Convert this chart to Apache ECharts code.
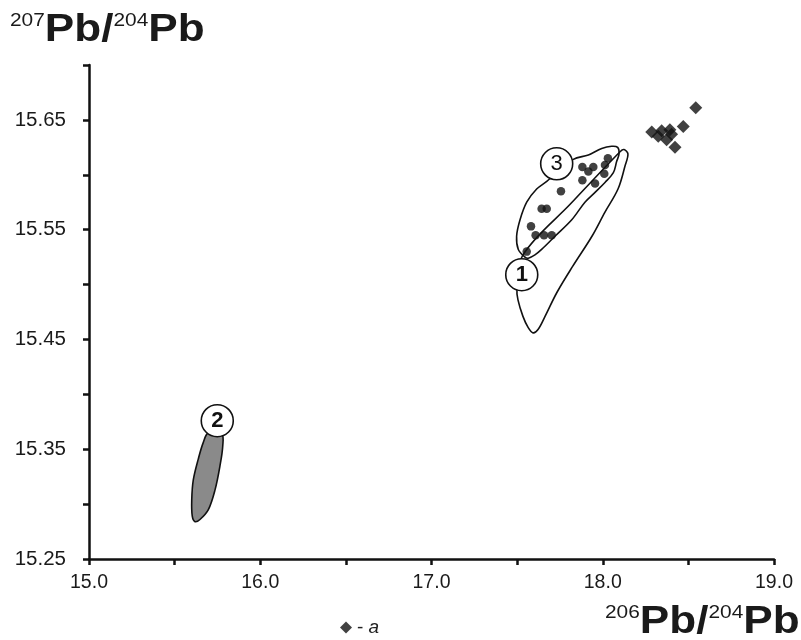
<!DOCTYPE html>
<html>
<head>
<meta charset="utf-8">
<style>
  html,body{margin:0;padding:0;background:#fff;}
  #chart{width:801px;height:640px;}
</style>
<script src="https://cdn.jsdelivr.net/npm/echarts@6/dist/echarts.min.js"></script>
</head>
<body>
<div id="chart"></div>
<script>
// series a (diamonds)
var diamondsA = [
  [18.543,15.661],[18.470,15.644],[18.392,15.641],[18.344,15.640],[18.286,15.639],
  [18.402,15.637],[18.324,15.635],[18.373,15.632],[18.422,15.625]
];
// dots inside field 3
var dots = [
  [18.030,15.615],[18.013,15.609],[17.881,15.607],[17.945,15.607],[17.916,15.603],
  [18.009,15.601],[17.881,15.595],[17.955,15.592],[17.756,15.585],[17.643,15.569],
  [17.673,15.569],[17.581,15.553],[17.608,15.545],[17.657,15.545],[17.702,15.545],
  [17.556,15.530]
];
// field outlines
var field1 = [
  [17.534,15.527],[17.815,15.574],[18.101,15.621],[18.124,15.623],[18.147,15.619],
  [18.130,15.608],[18.089,15.587],[18.013,15.566],[17.937,15.544],[17.826,15.517],
  [17.733,15.493],[17.663,15.471],[17.622,15.459],[17.593,15.456],[17.564,15.461],
  [17.534,15.471],[17.505,15.486],[17.499,15.496]
];
var field2 = [
  [15.697,15.365],[15.775,15.364],[15.781,15.353],[15.765,15.335],[15.736,15.313],
  [15.697,15.295],[15.648,15.286],[15.619,15.284],[15.603,15.289],[15.600,15.304],
  [15.609,15.322],[15.638,15.341],[15.667,15.356]
];
var field3 = [
  [17.546,15.525],[17.507,15.532],[17.497,15.544],[17.517,15.559],[17.556,15.575],
  [17.614,15.587],[17.673,15.594],[17.828,15.614],[17.916,15.618],[17.994,15.624],
  [18.052,15.626],[18.087,15.625],[18.095,15.619],[18.081,15.612],[18.062,15.602],
  [18.013,15.593],[17.955,15.584],[17.896,15.575],[17.819,15.559],[17.721,15.544],
  [17.643,15.532],[17.604,15.527],[17.565,15.524]
];
// numbered field labels
var fieldLabels = [
  [17.527,15.509,'1'],
  [15.749,15.376,'2'],
  [17.731,15.610,'3']
];
var xTicks = {min:15, max:19, step:0.5};
var yTicks = {min:15.25, max:15.70, step:0.05};

var font = "'Liberation Sans', Arial, sans-serif";
var myChart = echarts.init(document.getElementById('chart'));

function fieldSeries(points, fill){
  return {
    type:'custom',
    data:[0],
    z:1,
    silent:true,
    renderItem:function(params, api){
      var pts = points.map(function(p){ return api.coord(p); });
      return {
        type:'polygon',
        shape:{points:pts, smooth:0.35},
        style:{fill:fill, stroke:'#111', lineWidth:1.6}
      };
    }
  };
}

function titleText(x, y, a, b){
  return {
    type:'text',
    x:x, y:y, scaleX:1.16,
    style:{
      text:'{s|' + a + '}{b|Pb/}{s|' + b + '}{b|Pb}',
      fill:'#1a1a1a',
      verticalAlign:'top',
      rich:{
        s:{fontSize:18, fontFamily:font, lineHeight:20, verticalAlign:'top', fill:'#1a1a1a'},
        b:{fontSize:38, fontWeight:'bold', fontFamily:font, lineHeight:54, verticalAlign:'top', fill:'#1a1a1a'}
      }
    }
  };
}

var option = {
  backgroundColor:'#fff',
  animation:false,
  grid:{left:89, right:27, top:65, bottom:81},
  legend:{
    data:['a'],
    left:335, top:613,
    icon:'diamond',
    itemWidth:12, itemHeight:12,
    itemGap:8,
    formatter:function(){ return '- {i|a}'; },
    textStyle:{
      fontSize:19, color:'#222', fontFamily:font,
      rich:{i:{fontSize:19, fontStyle:'italic', color:'#222', fontFamily:font}}
    }
  },
  xAxis:{
    type:'value',
    min:xTicks.min, max:xTicks.max, interval:xTicks.step,
    splitLine:{show:false},
    axisLine:{lineStyle:{color:'#111', width:2.5}},
    axisTick:{length:6, lineStyle:{color:'#111', width:2.5}},
    axisLabel:{
      margin:14, fontSize:19.5, color:'#1a1a1a', fontFamily:font,
      formatter:function(v){
        return Math.abs(v - Math.round(v)) < 1e-6 ? v.toFixed(1) : '';
      }
    }
  },
  yAxis:{
    type:'value',
    min:yTicks.min, max:yTicks.max, interval:yTicks.step,
    splitLine:{show:false},
    axisLine:{lineStyle:{color:'#111', width:2.5}},
    axisTick:{length:6, lineStyle:{color:'#111', width:2.5}},
    axisLabel:{
      margin:23, fontSize:20.5, color:'#1a1a1a', fontFamily:font,
      formatter:function(v){
        var k = Math.round((v - yTicks.min) / yTicks.step);
        return k % 2 === 0 ? v.toFixed(2) : '';
      }
    }
  },
  graphic:[
    titleText(10, 12, '207', '204'),
    titleText(605, 604, '206', '204')
  ],
  series:[
    fieldSeries(field2, '#8a8a8a'),
    fieldSeries(field3, 'rgba(0,0,0,0)'),
    fieldSeries(field1, 'rgba(0,0,0,0)'),
    {
      name:'dots',
      type:'scatter',
      z:3,
      symbol:'circle',
      symbolSize:8.5,
      itemStyle:{color:'#111'},
      data:dots
    },
    {
      name:'a',
      type:'scatter',
      z:3,
      symbol:'diamond',
      symbolSize:13,
      itemStyle:{color:'#111'},
      data:diamondsA
    },
    {
      name:'labels',
      type:'scatter',
      z:4,
      symbol:'circle',
      symbolSize:32,
      itemStyle:{color:'#fff', borderColor:'#111', borderWidth:1.6, opacity:1},
      label:{
        show:true, position:'inside',
        fontSize:22, fontFamily:font, color:'#111',
        formatter:function(p){ return p.value[2]; }
      },
      data:fieldLabels.map(function(d){
        return {value:d, label:{fontWeight: d[2] === '3' ? 'normal' : 'bold'}};
      })
    }
  ]
};
myChart.setOption(option);
</script>
</body>
</html>
